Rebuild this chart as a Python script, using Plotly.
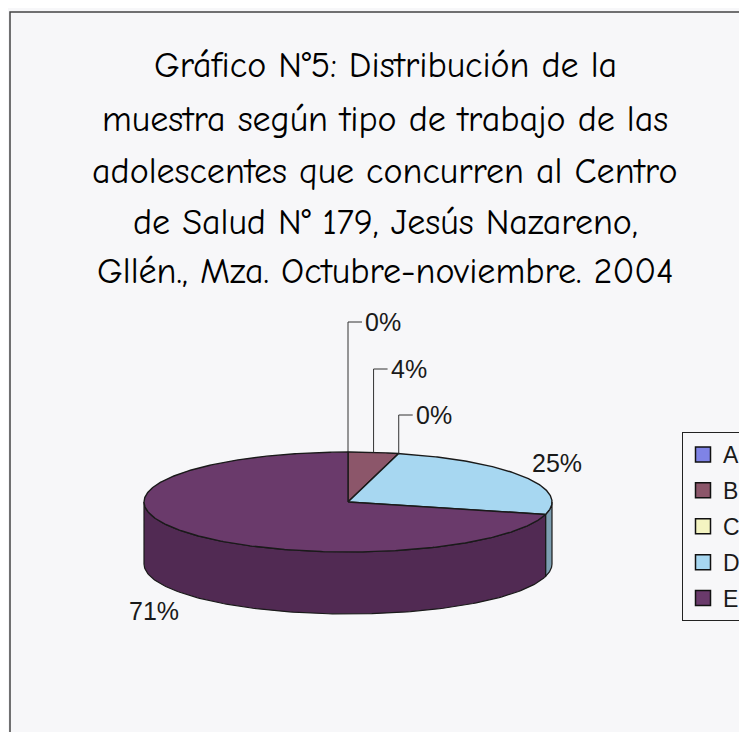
import numpy as np
import plotly.graph_objects as go

# ---------------- data ----------------
categories = ["A", "B", "C", "D", "E"]
values = [0, 4, 0, 25, 71]          # percent of sample
title_lines = [
    "Gráfico N°5: Distribución de la",
    "muestra según tipo de trabajo de las",
    "adolescentes que concurren al Centro",
    "de Salud N° 179, Jesús Nazareno,",
    "Gllén., Mza. Octubre-noviembre. 2004",
]

# ---------------- styles ----------------
OFF = 8  # page body margin offset
W, H = 747 - OFF, 732 - OFF
top_colors = ["#7f83e6", "#8c566a", "#f4f4c2", "#a7d7f1", "#6a3a6b"]
side_colors = ["#5f63b8", "#6a3d50", "#c8c8a0", "#7d9fb2", "#512a53"]
CX, CY, RX, RY, DEPTH = 348 - OFF, 502 - OFF, 204, 50, 62
BG = "#f7f7f9"
LABEL_FONT = dict(family="Liberation Sans, Arial, sans-serif", size=25, color="#1a1a1a")
# label placement: ("leader", label_y) or ("free", x, y)
label_place = [("leader", 322 - OFF), ("leader", 369 - OFF), ("leader", 415 - OFF),
               ("free", 557 - OFF, 463 - OFF), ("free", 154 - OFF, 611 - OFF)]
title_y = [y - OFF for y in (65, 119, 171, 222, 271)]
title_x = 385 - OFF


def pt(t_deg, dy=0.0):
    t = np.radians(t_deg)
    return CX + RX * np.sin(t), CY - RY * np.cos(t) + dy


total = float(sum(values))
angles = np.cumsum([0] + [v / total * 360 for v in values])

fig = go.Figure()

# side walls (front half only: 90..270 deg measured clockwise from 12 o'clock)
for i, cat in enumerate(categories):
    a, b = angles[i], angles[i + 1]
    lo, hi = max(a, 90), min(b, 270)
    if hi <= lo:
        continue
    ts = np.linspace(lo, hi, 150)
    xt, yt = pt(ts)
    xb, yb = pt(ts[::-1], DEPTH)
    fig.add_trace(go.Scatter(
        x=np.concatenate([xt, xb, xt[:1]]), y=np.concatenate([yt, yb, yt[:1]]),
        fill="toself", fillcolor=side_colors[i], mode="lines",
        line=dict(color="#1a1a1a", width=1.2), showlegend=False, hoverinfo="skip"))

# top faces
for i, cat in enumerate(categories):
    a, b = angles[i], angles[i + 1]
    ts = np.linspace(a, b, max(2, int((b - a) * 2)))
    xa, ya = pt(ts)
    fig.add_trace(go.Scatter(
        x=np.concatenate([[CX], xa, [CX]]), y=np.concatenate([[CY], ya, [CY]]),
        fill="toself", fillcolor=top_colors[i], mode="lines",
        line=dict(color="#1a1a1a", width=1.4), name=cat, legendgroup=cat,
        showlegend=False, hoverinfo="name"))

# legend entries (square swatches, one per category)
for i, cat in enumerate(categories):
    fig.add_trace(go.Scatter(
        x=[None], y=[None], mode="markers", name=cat, legendgroup=cat,
        marker=dict(symbol="square", size=15, color=top_colors[i],
                    line=dict(color="#111111", width=1.5))))

# data labels
for i, cat in enumerate(categories):
    txt = f"{values[i]}%"
    place = label_place[i]
    mid = (angles[i] + angles[i + 1]) / 2
    if place[0] == "leader":
        sx, sy = pt(mid)
        ly = place[1]
        fig.add_trace(go.Scatter(
            x=[sx, sx, sx + 14], y=[sy, ly, ly], mode="lines",
            line=dict(color="#333333", width=1), showlegend=False, hoverinfo="skip"))
        fig.add_annotation(x=sx + 15, y=ly, text=txt, showarrow=False,
                           xanchor="left", yanchor="middle", font=LABEL_FONT)
    else:
        fig.add_annotation(x=place[1], y=place[2], text=txt, showarrow=False,
                           xanchor="center", yanchor="middle", font=LABEL_FONT)

# title lines
for ln, y in zip(title_lines, title_y):
    fig.add_annotation(x=title_x, y=y, text=ln, showarrow=False, xanchor="center",
                       yanchor="middle",
                       font=dict(family="Comic Sans MS, Comic Neue, DejaVu Sans, sans-serif",
                                 size=36, color="#000000"))

# chart frame
fig.add_shape(type="rect", xref="paper", yref="paper",
              x0=(10 - OFF) / W, x1=1.2, y0=-0.2, y1=1 - (12 - OFF) / H,
              line=dict(color="#444444", width=1.5), fillcolor="rgba(0,0,0,0)", layer="below")

fig.update_layout(
    width=W, height=H, autosize=False,
    margin=dict(l=0, r=0, t=0, b=0),
    paper_bgcolor=BG, plot_bgcolor=BG,
    xaxis=dict(range=[0, W], visible=False, fixedrange=True),
    yaxis=dict(range=[H, 0], visible=False, fixedrange=True),
    showlegend=True,
    legend=dict(x=(682 - OFF) / W, y=1 - (432 - OFF) / H, xanchor="left", yanchor="top",
                bgcolor=BG, bordercolor="#222222", borderwidth=1,
                font=dict(family="Liberation Sans, Arial, sans-serif", size=23, color="#1a1a1a"),
                tracegroupgap=3, itemwidth=30, traceorder="grouped"),
)

fig.write_html("out.html")
